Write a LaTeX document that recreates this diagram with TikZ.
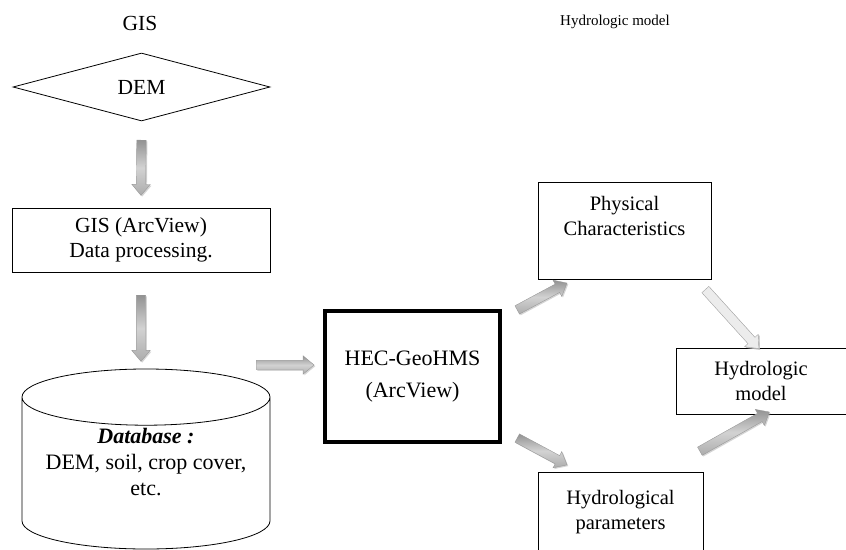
\documentclass[tikz,border=0pt]{standalone}
\usepackage{fontspec}
\setmainfont{Liberation Serif}
\usetikzlibrary{shapes.geometric,shapes.arrows,shadows,calc}

\tikzset{
	box/.style={draw,line width=0.8pt,align=center,inner sep=0pt},
	bigfont/.style={font=\fontsize{21.5}{25}\selectfont},
	fatarrow/.style={single arrow,draw=gray!80,line width=0.4pt,inner xsep=0pt,inner ysep=4.5pt,
		single arrow head extend=4.5pt,single arrow tip angle=80,
		top color=gray!85,bottom color=gray!65,middle color=gray!35,
		drop shadow={shadow xshift=1.2pt,shadow yshift=-1.2pt,fill=gray!65}},
	palearrow/.style={fatarrow,draw=gray!70,top color=gray!15,bottom color=gray!15,middle color=gray!15,
		drop shadow={shadow xshift=1pt,shadow yshift=-1pt,fill=gray!35}}
}

\newcommand\blockarrow[3][]{%
	\path let \p1=#2, \p2=#3, \n1={atan2(\y2-\y1,\x2-\x1)}, \n2={veclen(\x2-\x1,\y2-\y1)} in
		node[fatarrow,#1,rotate=\n1,minimum height=\n2] at ($#2!0.5!#3$) {};}

\begin{document}
\begin{tikzpicture}[x=1pt,y=-1pt,font=\fontsize{20.5}{25}\selectfont]
		\useasboundingbox (0,0) rectangle (846,549);
		% titles
		\node[bigfont] (tgis) at (140,23) {GIS};
		\node[font=\fontsize{15}{18}\selectfont] (thyd) at (615,22) {Hydrologic model};
		% GIS side
		\node[box,bigfont,diamond,aspect=3.76,minimum width=257,minimum height=68] (dem) at (141.5,87) {DEM};
		\node[box,bigfont,minimum width=258,minimum height=64] (gis) at (141,240) {GIS (ArcView)\\Data processing.};
		\node[box,cylinder,shape border rotate=90,aspect=0.28,minimum width=248,minimum height=180,
			anchor=shape center,text depth=22pt,font=\fontsize{22}{26}\selectfont] (db) at (146,459)
			{\textbf{\textit{Database :}}\\DEM, soil, crop cover,\\etc.};
		% hydrologic side
		\node[box,line width=3.5pt,minimum width=175,minimum height=131,font=\fontsize{22}{25}\selectfont] (hec) at (412.5,376.5)
			{HEC-GeoHMS\\[7pt](ArcView)};
		\node[box,minimum width=173,minimum height=97,text depth=30pt] (phys) at (624.5,230.5) {Physical\\Characteristics};
		\node[box,minimum width=170,minimum height=66] (hmod) at (761,381) {Hydrologic\\model};
		\node[box,minimum width=165,minimum height=108,text depth=32pt] (hpar) at (620.5,526) {Hydrological\\parameters};
		% arrows
		\coordinate (a1) at ([yshift=-16]dem.south);
		\coordinate (b1) at ([yshift=15]gis.north);
		\coordinate (a2) at ([yshift=-20]gis.south);
		\coordinate (b2) at ([yshift=10]a2 |- db.north);
		\coordinate (a3) at ([xshift=-17]db.east |- 0,365);
		\coordinate (b3) at ([xshift=-12]hec.west |- a3);
		\coordinate (a4) at ([xshift=13,yshift=-2]hec.north east);
		\coordinate (b4) at ([xshift=27,yshift=-5]phys.south west);
		\coordinate (a5) at ([xshift=-8,yshift=-8]phys.south east);
		\coordinate (b5) at ([xshift=-4,yshift=1]hmod.north);
		\coordinate (a6) at ([xshift=13,yshift=7]hec.south east);
		\coordinate (b6) at ([xshift=27,yshift=8]hpar.north west);
		\coordinate (a7) at ([xshift=-6,yshift=19]hpar.north east);
		\coordinate (b7) at ([xshift=6,yshift=1]hmod.south);
		\blockarrow{(a1)}{(b1)}
		\blockarrow{(a2)}{(b2)}
		\blockarrow{(a3)}{(b3)}
		\blockarrow{(a4)}{(b4)}
		\blockarrow[palearrow]{(a5)}{(b5)}
		\blockarrow{(a6)}{(b6)}
		\blockarrow{(a7)}{(b7)}
	\end{tikzpicture}
\end{document}
